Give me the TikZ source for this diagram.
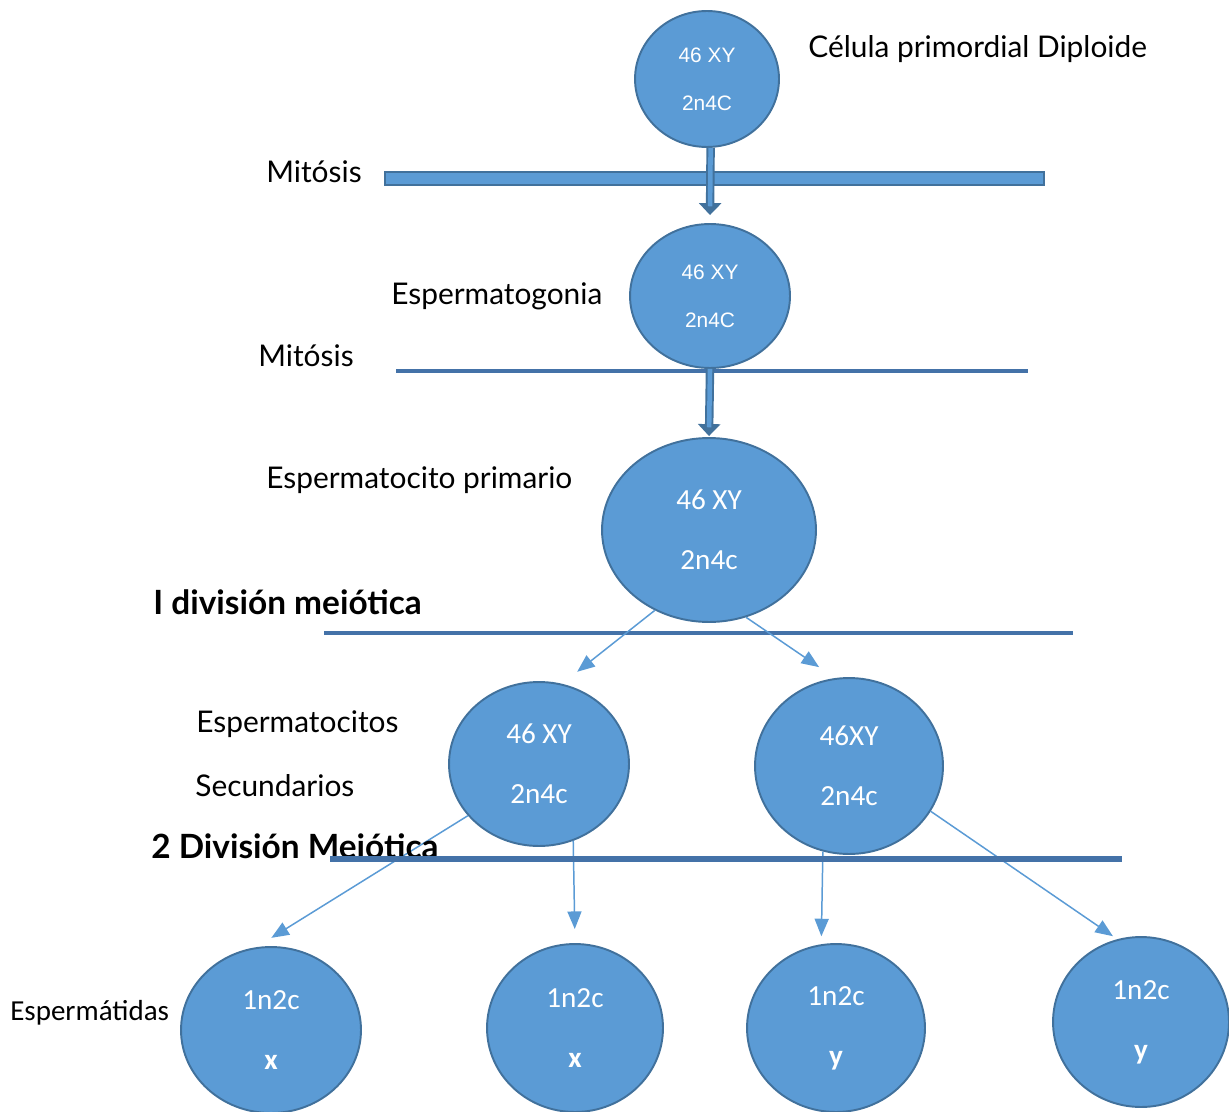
\documentclass[tikz,border=0pt]{standalone}
\usepackage{fontspec}
\setmainfont{Lato}
\newfontfamily\arialf{Liberation Sans}
\newfontfamily\calf{Carlito}
\usetikzlibrary{shapes.geometric, arrows.meta}
\definecolor{CellBlue}{HTML}{5B9BD5}
\definecolor{CellEdge}{HTML}{41719C}
\definecolor{BarBlue}{HTML}{4472A8}

\begin{document}
\begin{tikzpicture}[x=0.02cm, y=-0.02cm,
    cell/.style={ellipse, draw=CellEdge, line width=1.1pt, fill=CellBlue, text=white, inner sep=0pt, align=center},
    smallcell/.style={cell, font=\arialf\fontsize{11.9}{27.2}\selectfont},
    bigcell/.style={cell, font=\calf\fontsize{16.6}{34}\selectfont},
    lbl/.style={anchor=west, inner sep=0pt, font=\fontsize{17}{20}\selectfont},
    boldlbl/.style={lbl, font=\bfseries\fontsize{19}{22}\selectfont},
    bar/.style={draw=BarBlue, line width=2.8pt},
    fatarrow/.style={line width=2.6pt, CellBlue, shorten >=5pt,
        preaction={draw, CellEdge, line width=4.8pt, shorten >=0pt, -{Triangle[width=12.5pt, length=6.8pt]}}},
    thinarrow/.style={-{Triangle[width=8pt, length=10pt]}, CellBlue, line width=0.85pt}]
    \useasboundingbox (0,0) rectangle (1229,1111);

    % Primordial cell
    \node[smallcell, minimum width=2.88cm, minimum height=2.72cm] (prim) at (707,79) {46 XY\\2n4C};
    \node[lbl] (primlbl) at (808,49) {Célula primordial Diploide};

    % Mitosis 1
    \node[lbl] (mit1) at (266,172) {Mitósis};
    \draw[fill=CellBlue, draw=CellEdge, line width=1pt] (385,172) rectangle (1044,185);

    % Spermatogonium
    \node[smallcell, minimum width=3.2cm, minimum height=2.88cm] (gonia) at (710,296) {46 XY\\2n4C};
    \node[lbl] (gonialbl) at (391,296) {Espermatogonia};

    % Mitosis 2
    \node[lbl] (mit2) at (258,356) {Mitósis};
    \draw[bar] (396,371) -- (1028,371);

    % Primary spermatocyte
    \node[bigcell, minimum width=4.28cm, minimum height=3.68cm] (primary) at (709,530) {46 XY\\2n4c};
    \node[lbl] (primarylbl) at (266,480) {Espermatocito primario};

    % Meiosis I
    \node[boldlbl] (meio1) at (153,602) {I división meiótica};
    \draw[bar] (324,633) -- (1073,633);

    % Secondary spermatocytes
    \node[bigcell, minimum width=3.6cm, minimum height=3.28cm] (secA) at (539,764) {46 XY\\2n4c};
    \node[bigcell, minimum width=3.76cm, minimum height=3.52cm] (secB) at (849,766) {46XY\\2n4c};
    \node[lbl] (seclbl1) at (196,724) {Espermatocitos};
    \node[lbl] (seclbl2) at (195,786) {Secundarios};

    % Spermatids
    \node[bigcell, minimum width=3.6cm, minimum height=3.32cm] (tidA) at (271,1030) {1n2c\\\textbf{x}};
    \node[bigcell, minimum width=3.52cm, minimum height=3.36cm] (tidB) at (575,1028) {1n2c\\\textbf{x}};
    \node[bigcell, minimum width=3.56cm, minimum height=3.36cm] (tidC) at (836,1028) {1n2c\\\textbf{y}};
    \node[bigcell, minimum width=3.52cm, minimum height=3.4cm] (tidD) at (1141,1022) {1n2c\\\textbf{y}};
    \node[lbl, font=\calf\fontsize{16.5}{19}\selectfont] (tidlbl) at (10,1013) {Espermátidas};

    % Arrows
    \draw[fatarrow] (prim.-87) -- ([yshift=8*0.02cm]gonia.north);
    \draw[fatarrow] (gonia.south) -- ([yshift=1*0.02cm]primary.north);
    \draw[thinarrow, shorten >=11pt] (primary.-124) -- (secA.74);
    \draw[thinarrow, shorten >=11pt] (primary.-67) -- (secB.99);
    \draw[thinarrow, shorten >=10pt] (secA.-144) -- (tidA.100);
    \draw[thinarrow, shorten >=8pt] (secA.-66) -- (tidB.north);
    \draw[thinarrow, shorten >=4.5pt] (secB.-107) -- (tidC.100);
    \draw[thinarrow, shorten >=3pt] (secB.-29) -- (tidD.106);

    % Meiosis II (drawn over the arrows)
    \node[boldlbl] (meio2) at (151,846) {2 División Meiótica};
    \draw[bar, line width=3pt] (330,859) -- (1122,859);
\end{tikzpicture}
\end{document}
